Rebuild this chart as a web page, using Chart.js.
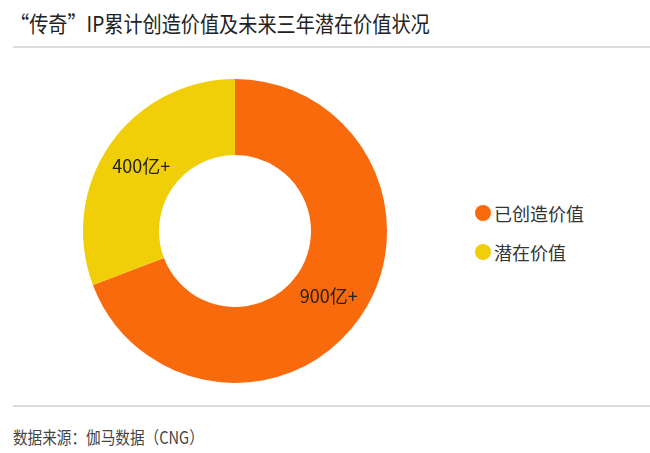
<!DOCTYPE html>
<html>
<head>
    <meta charset="utf-8">
    <title>传奇IP价值</title>
    <script src="https://cdn.jsdelivr.net/npm/chart.js"></script>
    <style>
        body { margin:0; width:650px; height:453px; background:#fff; position:relative; overflow:hidden;
               font-family:"Noto Sans CJK SC","Noto Sans",sans-serif; color:#222; }
        #title { position:absolute; left:10px; top:6px; font-size:22px; white-space:nowrap;
                 transform:scaleX(0.87); transform-origin:left center; }
        .rule { position:absolute; left:13px; width:637px; height:2px; background:#ddd; }
        #chartBox { position:absolute; left:79px; top:75px; width:312px; height:312px; }
        #legend { position:absolute; left:475px; top:200px; font-size:18px; color:#333; }
        #legend div { height:39px; display:flex; align-items:flex-start; }
        #legend span.dot { display:inline-block; width:16px; height:16px; border-radius:50%; margin:5px 3px 0 0; }
        #source { position:absolute; left:13px; top:424px; font-size:17px; color:#444; white-space:nowrap;
                  transform:scaleX(0.86); transform-origin:left center; }
    </style>
</head>
<body>
<div id="title">“传奇”IP累计创造价值及未来三年潜在价值状况</div>
<div class="rule" style="top:46px;"></div>
<div id="chartBox"><canvas id="pie"></canvas></div>
<div id="legend"></div>
<div class="rule" style="top:405px;"></div>
<div id="source">数据来源：伽马数据（CNG）</div>

<script>
    // values in 亿
    const labels = ['已创造价值', '潜在价值'];
    const values = [900, 400];
    const valueText = ['900亿+', '400亿+'];
    const colors = ['#F96A0D', '#F0CE08'];

    // labels in the middle of each ring slice
    const sliceText = {
      id: 'sliceText',
      afterDatasetsDraw(chart) {
        const ctx = chart.ctx;
        ctx.save();
        ctx.font = '18px "Noto Sans CJK SC", sans-serif';
        ctx.fillStyle = '#222';
        ctx.textAlign = 'center';
        ctx.textBaseline = 'middle';
        chart.getDatasetMeta(0).data.forEach((arc, i) => {
          const p = arc.tooltipPosition();
          ctx.fillText(valueText[i], p.x, p.y);
        });
        ctx.restore();
      }
    };

    new Chart(document.getElementById('pie'), {
      type: 'doughnut',
      data: {
        labels: labels,
        datasets: [{ data: values, backgroundColor: colors, borderWidth: 0 }]
      },
      options: {
        responsive: true,
        maintainAspectRatio: false,
        animation: false,
        cutout: '50%',
        layout: { padding: 4 },
        plugins: { legend: { display: false }, tooltip: { enabled: false } }
      },
      plugins: [sliceText]
    });

    const legend = document.getElementById('legend');
    labels.forEach((l, i) => {
      const row = document.createElement('div');
      row.innerHTML = '<span class="dot" style="background:' + colors[i] + '"></span>' + l;
      legend.appendChild(row);
    });
</script>
</body>
</html>
